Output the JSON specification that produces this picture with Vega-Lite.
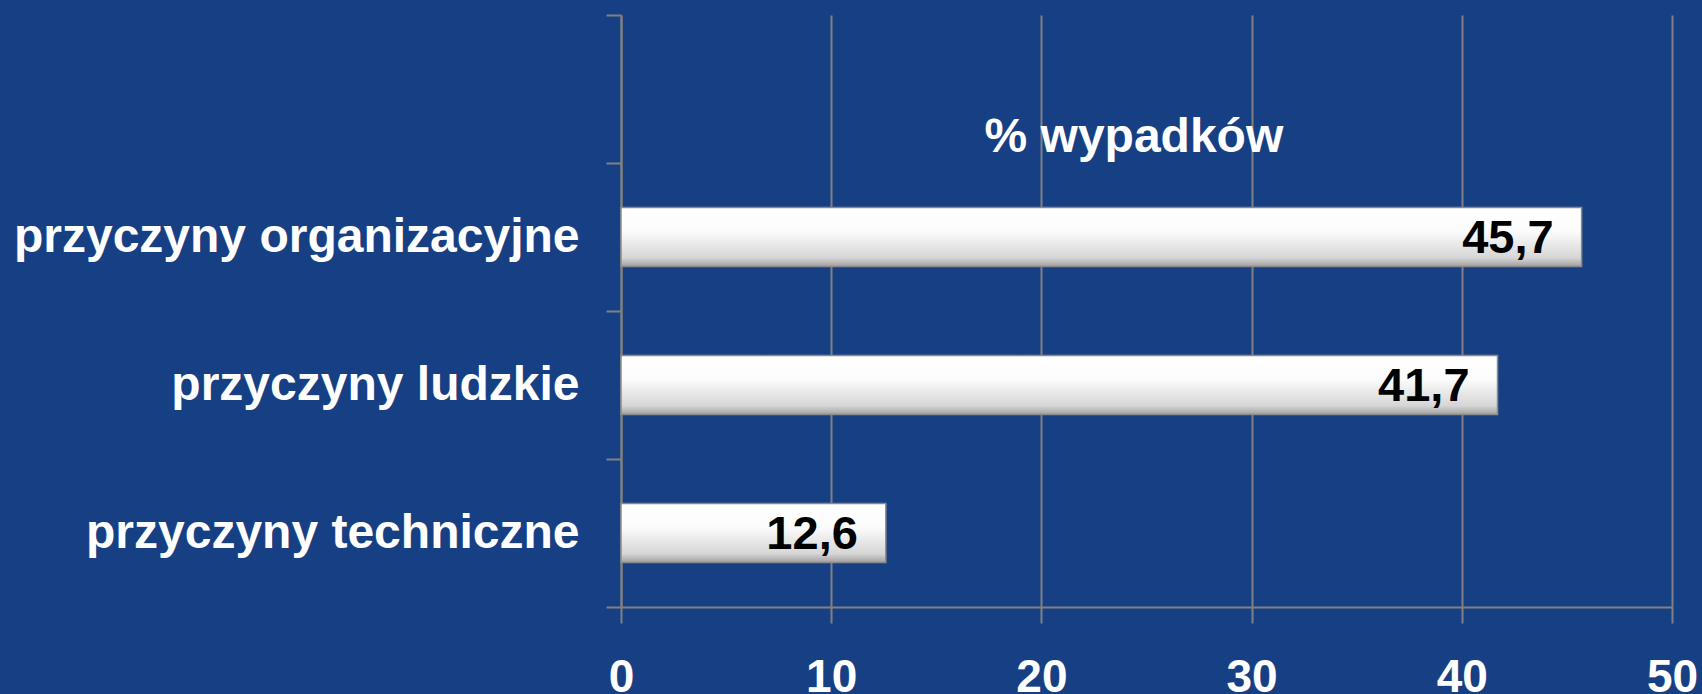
{
  "$schema": "https://vega.github.io/schema/vega-lite/v6.json",
  "autosize": {"type": "none"},
  "width": 1051,
  "height": 592,
  "padding": {"left": 621, "top": 15, "right": 30, "bottom": 87},
  "background": "#174084",
  "config": {
    "view": {"stroke": null},
    "locale": {"number": {"decimal": ",", "thousands": " ", "grouping": [3], "currency": ["", " zł"]}},
    "font": "Liberation Sans"
  },
  "data": {
    "values": [
      {"przyczyna": "przyczyny organizacyjne", "procent": 45.7},
      {"przyczyna": "przyczyny ludzkie", "procent": 41.7},
      {"przyczyna": "przyczyny techniczne", "procent": 12.6}
    ]
  },
  "encoding": {
    "y": {
      "field": "przyczyna",
      "type": "nominal",
      "scale": {"domain": [" ", "przyczyny organizacyjne", "przyczyny ludzkie", "przyczyny techniczne"], "paddingInner": 0, "paddingOuter": 0},
      "axis": {
        "title": null,
        "tickBand": "extent",
        "tickSize": 15,
        "tickColor": "#808080",
        "tickWidth": 2,
        "domainColor": "#808080",
        "domainWidth": 2,
        "grid": false,
        "labelFont": "Liberation Sans",
        "labelFontWeight": "bold",
        "labelFontSize": 48,
        "labelColor": "#ffffff",
        "labelPadding": 27,
        "labelLimit": 800
      }
    }
  },
  "layer": [
    {
      "mark": {
        "type": "bar",
        "height": {"band": 0.4},
        "stroke": "#8a8a8a",
        "strokeWidth": 1.5,
        "color": {
          "gradient": "linear", "x1": 0, "y1": 0, "x2": 0, "y2": 1,
          "stops": [
            {"offset": 0, "color": "#ffffff"},
            {"offset": 0.4, "color": "#fcfcfc"},
            {"offset": 0.85, "color": "#d6d6d6"},
            {"offset": 1, "color": "#a0a0a0"}
          ]
        }
      },
      "encoding": {
        "x": {
          "field": "procent",
          "type": "quantitative",
          "scale": {"domain": [0, 50], "nice": false, "zero": true},
          "axis": {
            "title": null,
            "values": [0, 10, 20, 30, 40, 50],
            "grid": true,
            "gridColor": "#808080",
            "gridWidth": 2,
            "gridOpacity": 1,
            "tickSize": 16,
            "tickColor": "#808080",
            "tickWidth": 2,
            "domainColor": "#808080",
            "domainWidth": 2,
            "labelFont": "Liberation Sans",
            "labelFontWeight": "bold",
            "labelFontSize": 46,
            "labelColor": "#ffffff",
            "labelPadding": 32,
            "labelFlush": false,
            "labelOverlap": false
          }
        }
      }
    },
    {
      "mark": {
        "type": "text",
        "align": "right",
        "baseline": "middle",
        "dx": -28,
        "dy": 2,
        "font": "Liberation Sans",
        "fontWeight": "bold",
        "fontSize": 47,
        "color": "#000000"
      },
      "encoding": {
        "x": {"field": "procent", "type": "quantitative"},
        "text": {"field": "procent", "type": "quantitative", "format": ".1f"}
      }
    },
    {
      "data": {"values": [{"tytul": "% wypadków"}]},
      "mark": {
        "type": "text",
        "align": "center",
        "baseline": "alphabetic",
        "dy": 63,
        "font": "Liberation Sans",
        "fontWeight": "bold",
        "fontSize": 48,
        "color": "#ffffff"
      },
      "encoding": {
        "x": {"datum": 24.4, "type": "quantitative"},
        "y": {"datum": " ", "type": "nominal"},
        "text": {"field": "tytul", "type": "nominal"}
      }
    }
  ]
}
